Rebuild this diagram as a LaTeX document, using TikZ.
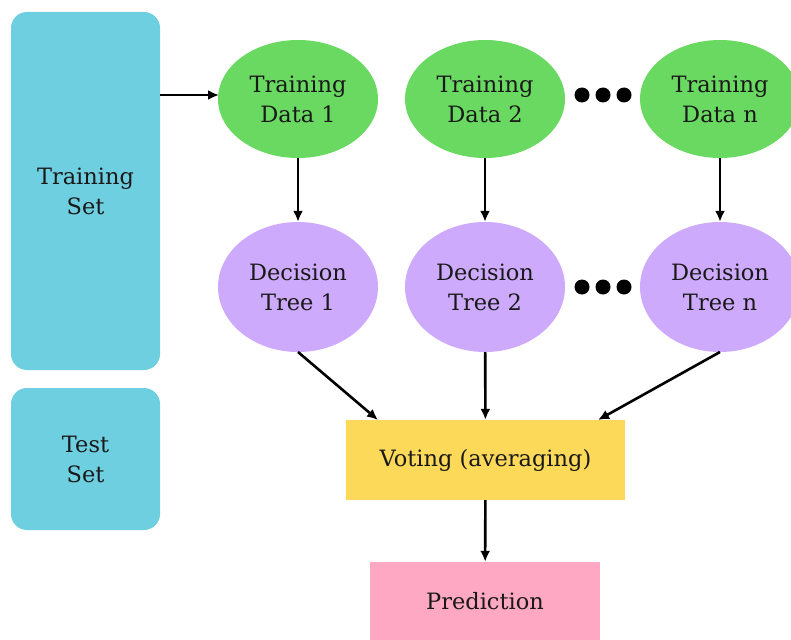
\documentclass[tikz,border=0pt]{standalone}
\usepackage{fontspec}
\setmainfont{DejaVu Serif}
\usetikzlibrary{shapes.geometric,arrows.meta}
\definecolor{setblue}{RGB}{110,207,224}
\definecolor{datagreen}{RGB}{106,217,98}
\definecolor{treepurple}{RGB}{205,170,252}
\definecolor{voteyellow}{RGB}{253,217,90}
\definecolor{predpink}{RGB}{255,168,196}
\tikzset{
  txt/.style={font=\fontsize{22.5}{30}\selectfont, text=black!90, align=center},
  setbox/.style={txt, fill=setblue, rounded corners=16pt, minimum width=149pt, inner sep=0pt},
  databall/.style={txt, ellipse, fill=datagreen, minimum width=160pt, minimum height=118pt, inner sep=0pt},
  treeball/.style={txt, ellipse, fill=treepurple, minimum width=160pt, minimum height=130pt, inner sep=0pt},
  flow/.style={line width=2.6pt, -{Latex[length=11pt,width=10pt]}},
}
\begin{document}
\begin{tikzpicture}[x=1pt,y=-1pt]
\useasboundingbox (0,0) rectangle (791,639);
\clip (0,0) rectangle (791,639);
% sets on the left
\node[setbox, minimum height=358pt] (trainset) at (85.5,191) {Training\\Set};
\node[setbox, minimum height=142pt] (testset) at (85.5,459) {Test\\Set};
% bootstrap samples
\node[databall] (data1) at (298,99) {Training\\Data 1};
\node[databall] (data2) at (485,99) {Training\\Data 2};
\node[databall] (datan) at (720,99) {Training\\Data n};
% trees
\node[treeball] (tree1) at (298,287) {Decision\\Tree 1};
\node[treeball] (tree2) at (485,287) {Decision\\Tree 2};
\node[treeball] (treen) at (720,287) {Decision\\Tree n};
% dots
\fill (582,95) circle (7.5);
\fill (603,95) circle (7.5);
\fill (624,95) circle (7.5);
\fill (582,287) circle (7.5);
\fill (603,287) circle (7.5);
\fill (624,287) circle (7.5);
% voting and result
\node[txt, fill=voteyellow, minimum width=279pt, minimum height=80pt] (vote) at (485.5,460) {Voting (averaging)};
\node[txt, fill=predpink, minimum width=230pt, minimum height=78pt] (pred) at (485,601) {Prediction};
\coordinate (trainout) at (160,95);
\coordinate (data1in) at (219,95);
\coordinate (voteleft) at (378,420);
\coordinate (voteright) at (598,420);
\coordinate (tree1out) at (298,352);
\coordinate (treenout) at (720,352);
\draw[flow] (trainout) -- (data1in);
\draw[flow] (data1) -- (tree1);
\draw[flow] (data2) -- (tree2);
\draw[flow] (datan) -- (treen);
\draw[flow] (tree1out) -- (voteleft);
\draw[flow] (tree2) -- (vote);
\draw[flow] (treenout) -- (voteright);
\draw[flow] (vote) -- (pred);
\end{tikzpicture}
\end{document}
